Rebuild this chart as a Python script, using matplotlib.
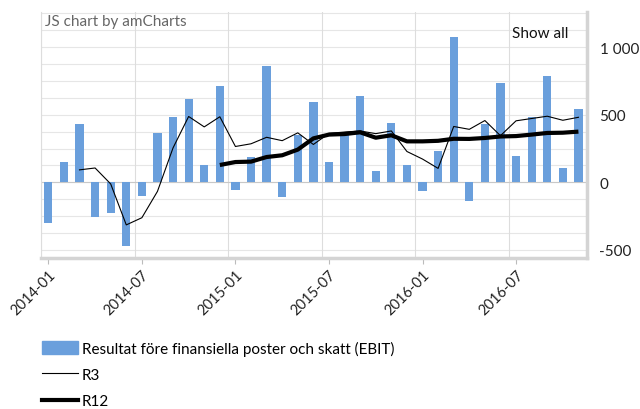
import numpy as np
import pandas as pd
import matplotlib
matplotlib.use("Agg")
import matplotlib.pyplot as plt
from matplotlib.patches import Patch
from matplotlib.lines import Line2D

plt.rcParams['font.family'] = ['Lato', 'DejaVu Sans']

months = pd.period_range("2014-01", "2016-11", freq="M").strftime("%Y-%m").tolist()

ebit = [-302, 151, 428, -260, -228, -468, -99, 364, 483, 619, 131, 713,
        -59, 186, 861, -109, 347, 596, 151, 354, 639, 87, 436, 131,
        -67, 235, 1072, -141, 433, 733, 193, 483, 787, 106, 545]

# R3 starts at 2014-03, R12 at 2014-12
r3 = [92, 106, -12, -315, -262, -67, 255, 487, 410, 485, 265, 285,
      333, 308, 366, 280, 362, 372, 380, 360, 380, 228, 172, 103,
      413, 392, 457, 345, 455, 472, 489, 459, 481]
r12 = [128, 150, 153, 187, 200, 242, 325, 353, 357, 370, 330, 348,
       303, 303, 307, 322, 321, 328, 339, 342, 353, 365, 367, 375]

tick_labels = ["2014-01", "2014-07", "2015-01", "2015-07", "2016-01", "2016-07"]

bar_color = "#6a9fdc"
x = np.arange(len(months))
x_r3 = x[len(months) - len(r3):]
x_r12 = x[len(months) - len(r12):]

fig = plt.figure(figsize=(6.4, 4.1), dpi=100)
ax = fig.add_axes([41 / 640, 1 - 259 / 410, 546 / 640, 246 / 410])

ax.set_xlim(-0.47, 34.55)
ax.set_ylim(-560, 1260)

# grid
for yv in np.arange(-500, 1251, 125):
    ax.axhline(yv, color="#e6e6e6", lw=0.8, zorder=0)
for lab in tick_labels:
    ax.axvline(months.index(lab) - 0.46, color="#dddddd", lw=0.8, zorder=0)
ax.axhline(0, color="#c8c8c8", lw=0.8, zorder=0.5)

ax.bar(x, ebit, width=0.53, color=bar_color, zorder=2)
ax.plot(x_r3, r3, color="black", lw=0.8, zorder=3)
ax.plot(x_r12, r12, color="black", lw=3.0, solid_capstyle="butt", zorder=4)

ax.yaxis.tick_right()
ax.set_yticks([-500, 0, 500, 1000])
ax.set_yticklabels(["-500", "0", "500", "1 000"])
ax.tick_params(axis="y", length=0, pad=9, labelsize=11, labelcolor="#222222")

ax.set_xticks([months.index(lab) for lab in tick_labels])
ax.set_xticklabels(tick_labels, rotation=45, ha="right", rotation_mode="anchor")
ax.tick_params(axis="x", length=4, color="#bbbbbb", labelsize=10.5,
               labelcolor="#222222", pad=3)

ax.spines["top"].set_visible(False)
ax.spines["left"].set_color("#dddddd")
ax.spines["left"].set_linewidth(0.8)
ax.spines["bottom"].set_color("#d4d4d4")
ax.spines["bottom"].set_linewidth(2.5)
ax.spines["right"].set_color("#d4d4d4")
ax.spines["right"].set_linewidth(2.5)

fig.text(45 / 640, 1 - 22 / 410, "JS chart by amCharts", fontsize=11,
         color="#666666", va="center", ha="left")
fig.text(568 / 640, 1 - 34 / 410, "Show all", fontsize=11,
         color="#111111", va="center", ha="right")

handles = [Patch(facecolor=bar_color, edgecolor=bar_color),
           Line2D([], [], color="black", lw=0.8),
           Line2D([], [], color="black", lw=3.0)]
labels = ["Resultat före finansiella poster och skatt (EBIT)", "R3", "R12"]
fig.legend(handles, labels, loc="upper left", bbox_to_anchor=(36 / 640, 1 - 336 / 410),
           frameon=False, fontsize=11, handlelength=2.35, handleheight=0.92,
           labelspacing=0.75, handletextpad=0.25, borderaxespad=0)

fig.savefig("out.png", dpi=100)
